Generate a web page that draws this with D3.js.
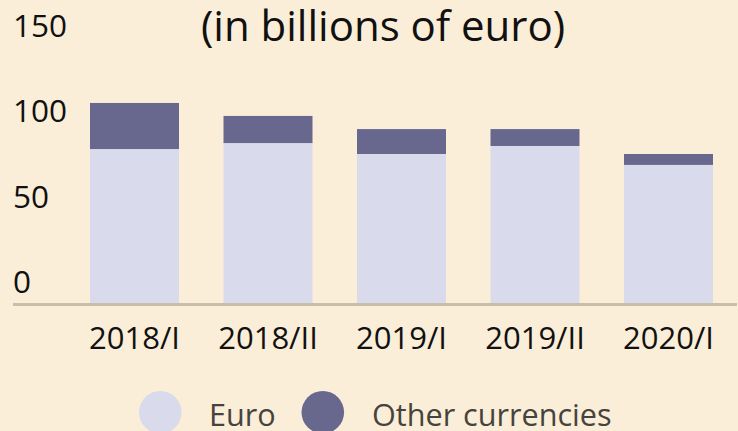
<!DOCTYPE html>
<html>
<head>
<meta charset="utf-8">
<script src="https://cdn.jsdelivr.net/npm/d3@7"></script>
<style>
  html, body { margin: 0; padding: 0; background: #faeed8; }
  svg { display: block; font-family: "Open Sans", sans-serif; }
</style>
</head>
<body>
<svg id="chart" width="738" height="431"></svg>
<script>
// data
const periods = ["2018/I", "2018/II", "2019/I", "2019/II", "2020/I"];
const euro = [90.5, 94.0, 87.6, 92.3, 81.2];
const otherCurrencies = [27.0, 15.9, 14.6, 9.9, 6.4];
const yTicks = [0, 50, 100, 150];
const seriesNames = ["Euro", "Other currencies"];
const seriesColors = ["#d9daeb", "#68688f"];

const svg = d3.select("#chart");

let rows = periods.map(function (p, i) {
    return { period: p, euro: euro[i], other: otherCurrencies[i] };
});

let stack = d3.stack().keys(["euro", "other"]);
let layers = stack(rows);

let x = d3.scaleBand()
    .domain(periods)
    .range([67.75, 735.25])
    .paddingInner(1 / 3)
    .paddingOuter(1 / 6);

let y = d3.scaleLinear()
    .domain([0, 150])
    .range([303.5, 47.5]);

// title
svg.append("text")
    .attr("x", 383)
    .attr("y", 41)
    .attr("text-anchor", "middle")
    .style("font-size", "42px")
    .style("fill", "#111")
    .text("(in billions of euro)");

// y labels, sitting above their value
svg.append("g")
    .selectAll("text")
    .data(yTicks)
    .enter().append("text")
    .attr("x", 13)
    .attr("y", function (d) { return y(d) - 10.5; })
    .style("font-size", "31.5px")
    .style("fill", "#111")
    .text(function (d) { return d; });

// bars
svg.append("g")
    .selectAll("g")
    .data(layers)
    .enter().append("g")
    .style("fill", function (d, i) { return seriesColors[i]; })
    .selectAll("rect")
    .data(function (d) { return d; })
    .enter().append("rect")
    .attr("x", function (d) { return x(d.data.period); })
    .attr("width", x.bandwidth())
    .attr("y", function (d) { return y(d[1]); })
    .attr("height", function (d) { return y(d[0]) - y(d[1]); });

// baseline
svg.append("line")
    .attr("x1", 13)
    .attr("x2", 737)
    .attr("y1", y(0) + 1)
    .attr("y2", y(0) + 1)
    .style("stroke", "#c8bfab")
    .style("stroke-width", "3px");

// x axis labels
let xAxis = d3.axisBottom(x).tickSize(0).tickPadding(0);
let gx = svg.append("g")
    .attr("transform", "translate(0,349)")
    .call(xAxis);
gx.select(".domain").remove();
gx.selectAll("text")
    .attr("dy", null)
    .attr("y", 0)
    .style("font-family", "Open Sans, sans-serif")
    .style("font-size", "31px")
    .style("fill", "#111");

// legend
let legendX = [160.3, 322.8];
let legend = svg.append("g")
    .selectAll("g")
    .data(seriesNames)
    .enter().append("g")
    .attr("transform", function (d, i) { return "translate(" + legendX[i] + ",412.3)"; });

legend.append("circle")
    .attr("r", 21.3)
    .style("fill", function (d, i) { return seriesColors[i]; });

legend.append("text")
    .attr("x", function (d, i) { return i === 0 ? 48.7 : 49.2; })
    .attr("y", 13.4)
    .style("font-size", "30.6px")
    .style("fill", "#46433d")
    .text(function (d) { return d; });
</script>
</body>
</html>
